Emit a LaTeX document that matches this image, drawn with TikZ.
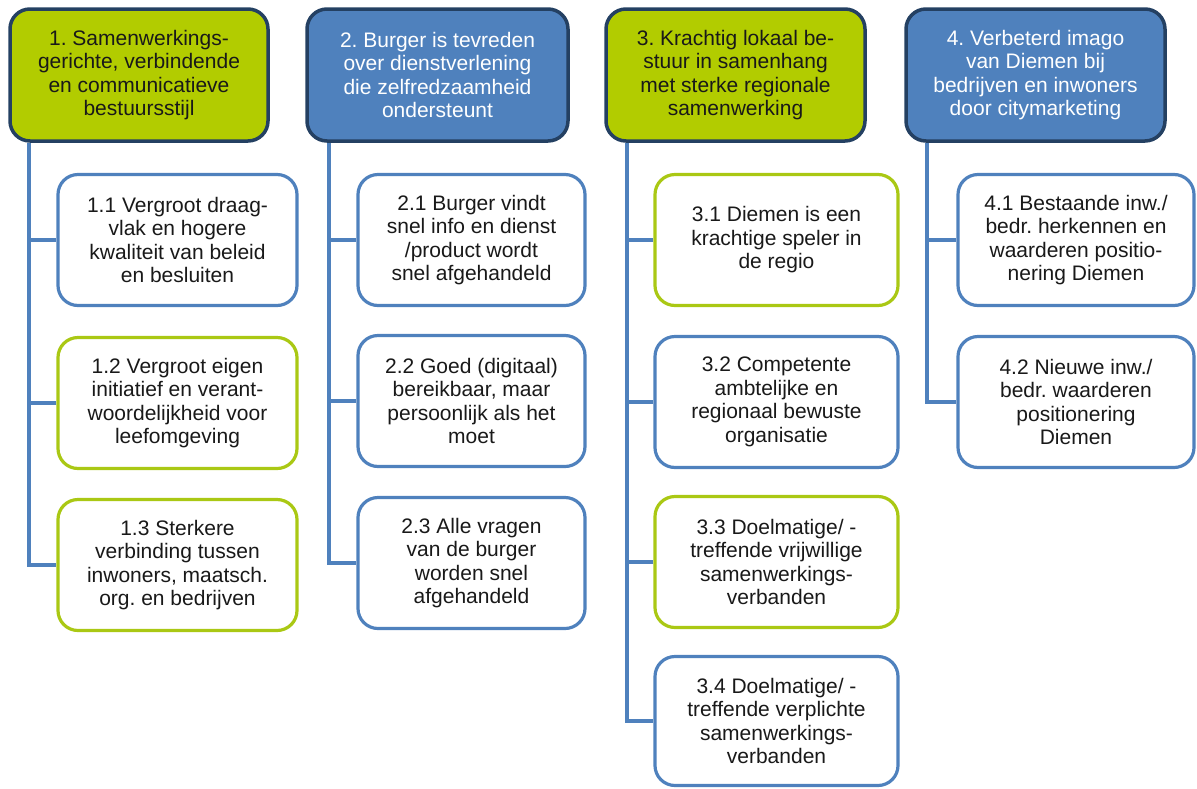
\documentclass[tikz,border=0pt]{standalone}
\usepackage{fontspec}
\setmainfont{Liberation Sans}
\frenchspacing
\definecolor{cgreen}{RGB}{178,204,0}
\definecolor{cgreenline}{RGB}{170,200,20}
\definecolor{cblue}{RGB}{79,129,189}
\definecolor{cdark}{RGB}{36,64,98}
\definecolor{ctext}{RGB}{25,25,25}
\tikzset{
  topbox/.style={draw=cdark, line width=3.5pt, rounded corners=20pt, align=center,
    minimum width=#1, minimum height=132pt, inner sep=0pt,
    font=\fontsize{21}{23.5}\selectfont},
  topgreen/.style={topbox=258pt, fill=cgreen, text=ctext},
  topblue/.style={topbox=260pt, fill=cblue, text=white},
  childbox/.style={draw=#1, fill=white, line width=3.2pt, rounded corners=20pt, align=center,
    minimum height=131pt, inner sep=0pt, text=ctext,
    font=\fontsize{21}{23.5}\selectfont},
  conn/.style={draw=cblue, line width=4pt},
}
\begin{document}
\begin{tikzpicture}[x=1pt,y=-1pt]
\useasboundingbox (0,0) rectangle (1197,788);
% top boxes
\node[topgreen, minimum width=258pt] (t1) at (139,75) {1. Samenwerkings-\\gerichte, verbindende\\en communicatieve\\bestuursstijl};
\node[topblue, minimum width=261pt] (t2) at (437.5,75) {2. Burger is tevreden\\over dienstverlening\\die zelfredzaamheid\\ondersteunt};
\node[topgreen, minimum width=259pt] (t3) at (735.5,75) {3. Krachtig lokaal be-\\stuur in samenhang\\met sterke regionale\\samenwerking};
\node[topblue, minimum width=259pt] (t4) at (1035.5,75) {4. Verbeterd imago\\van Diemen bij\\bedrijven en inwoners\\door citymarketing};
% column 1
\node[childbox=cblue, minimum width=239pt] (c11) at (177.5,240) {1.1 Vergroot draag-\\vlak en hogere\\kwaliteit van beleid\\en besluiten};
\node[childbox=cgreenline, minimum width=239pt] (c12) at (177.5,403) {1.2 Vergroot eigen\\initiatief en verant-\\woordelijkheid voor\\leefomgeving};
\node[childbox=cgreenline, minimum width=239pt] (c13) at (177.5,565) {1.3 Sterkere\\verbinding tussen\\inwoners, maatsch.\\org. en bedrijven};
% column 2
\node[childbox=cblue, minimum width=227pt] (c21) at (471.5,240) {2.1 Burger vindt\\snel info en dienst\\/product wordt\\snel afgehandeld};
\node[childbox=cblue, minimum width=227pt] (c22) at (471.5,401) {2.2 Goed (digitaal)\\bereikbaar, maar\\persoonlijk als het\\moet};
\node[childbox=cblue, minimum width=227pt] (c23) at (471.5,563) {2.3 Alle vragen\\van de burger\\worden snel\\afgehandeld};
% column 3
\node[childbox=cgreenline, minimum width=243pt] (c31) at (776.5,240) {3.1 Diemen is een\\krachtige speler in\\de regio};
\node[childbox=cblue, minimum width=243pt] (c32) at (776.5,402) {3.2 Competente\\ambtelijke en\\regionaal bewuste\\organisatie};
\node[childbox=cgreenline, minimum width=243pt] (c33) at (776.5,562) {3.3 Doelmatige/ -\\treffende vrijwillige\\samenwerkings-\\verbanden};
\node[childbox=cblue, minimum width=243pt, minimum height=129pt] (c34) at (776.5,721) {3.4 Doelmatige/ -\\treffende verplichte\\samenwerkings-\\verbanden};
% column 4
\node[childbox=cblue, minimum width=236pt] (c41) at (1076,240) {4.1 Bestaande inw./\\bedr. herkennen en\\waarderen positio-\\nering Diemen};
\node[childbox=cblue, minimum width=236pt] (c42) at (1076,402) {4.2 Nieuwe inw./\\bedr. waarderen\\positionering\\Diemen};
% spine positions
\coordinate (x1) at (29,0);
\coordinate (x2) at (329,0);
\coordinate (x3) at (627,0);
\coordinate (x4) at (927,0);
% connectors
\draw[conn] (t1.south -| x1) |- (c13.west);
\draw[conn] (c11.west) -- (c11.west -| x1);
\draw[conn] (c12.west) -- (c12.west -| x1);
\draw[conn] (t2.south -| x2) |- (c23.west);
\draw[conn] (c21.west) -- (c21.west -| x2);
\draw[conn] (c22.west) -- (c22.west -| x2);
\draw[conn] (t3.south -| x3) |- (c34.west);
\draw[conn] (c31.west) -- (c31.west -| x3);
\draw[conn] (c32.west) -- (c32.west -| x3);
\draw[conn] (c33.west) -- (c33.west -| x3);
\draw[conn] (t4.south -| x4) |- (c42.west);
\draw[conn] (c41.west) -- (c41.west -| x4);
\end{tikzpicture}
\end{document}
